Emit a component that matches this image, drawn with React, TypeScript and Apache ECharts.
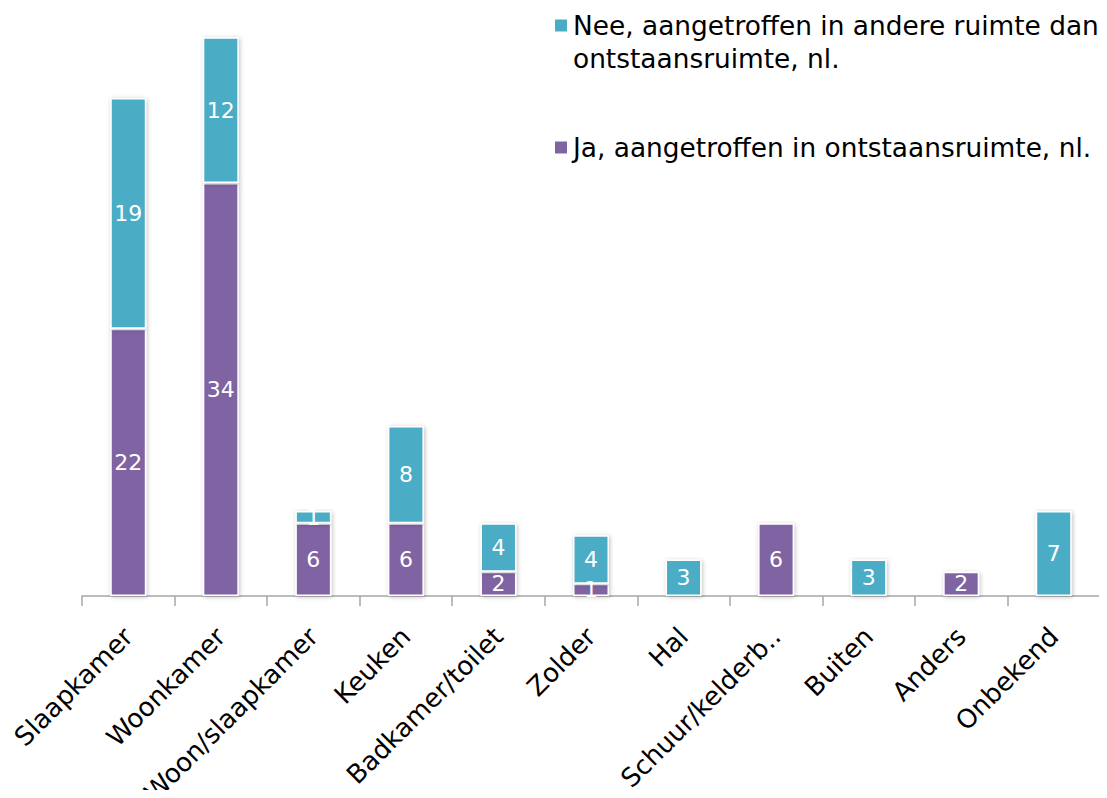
import React, { useEffect, useRef } from "react";
import * as echarts from "echarts";

const categories = [
  "Slaapkamer",
  "Woonkamer",
  "Woon/slaapkamer",
  "Keuken",
  "Badkamer/toilet",
  "Zolder",
  "Hal",
  "Schuur/kelderb..",
  "Buiten",
  "Anders",
  "Onbekend",
];
const jaValues = [22, 34, 6, 6, 2, 1, 0, 6, 0, 2, 0];
const neeValues = [19, 12, 1, 8, 4, 4, 3, 0, 3, 0, 7];
const jaName = "Ja, aangetroffen in ontstaansruimte, nl.";
const neeName = "Nee, aangetroffen in andere ruimte dan ontstaansruimte, nl.";
const neeLines = ["Nee, aangetroffen in andere ruimte dan", "ontstaansruimte, nl."];
const yMax = 48;

const FONT = "'DejaVu Sans', Verdana, sans-serif";

export default function App() {
  const ref = useRef<HTMLDivElement>(null);
  useEffect(() => {
    if (!ref.current) return;
    const chart = echarts.init(ref.current, undefined, { renderer: "svg" });
    const barStyle = (color: string) => ({
      color,
      borderColor: "#ffffff",
      borderWidth: 1.5,
      shadowBlur: 4,
      shadowColor: "rgba(0,0,0,0.25)",
      shadowOffsetX: 1,
      shadowOffsetY: 1,
    });
    const label = {
      show: true,
      position: "inside",
      color: "#ffffff",
      fontSize: 22,
      fontFamily: FONT,
      formatter: (p: any) => (p.value ? String(p.value) : ""),
    };
    const legendText = {
      fontSize: 26.4,
      color: "#000000",
      fontFamily: FONT,
      lineHeight: 33,
    };
    const legendBase = {
      orient: "vertical",
      left: 553,
      padding: 0,
      itemWidth: 14,
      itemHeight: 14,
      icon: "rect",
    };
    chart.setOption({
      animation: false,
      textStyle: { fontFamily: FONT },
      legend: [
        {
          ...legendBase,
          top: -24,
          data: [neeName],
          formatter: () => "{a| }\n{a|" + neeLines[0] + "}\n{a|" + neeLines[1] + "}",
          textStyle: { ...legendText, rich: { a: { ...legendText } } },
        },
        {
          ...legendBase,
          top: 131,
          data: [jaName],
          textStyle: { ...legendText },
        },
      ],
      grid: {
        left: 82,
        right: 7,
        top: 13,
        bottom: 202,
        containLabel: false,
        outerBoundsMode: "none",
      },
      xAxis: {
        type: "category",
        data: categories,
        axisLine: { lineStyle: { color: "#a6a6a6", width: 1.5 } },
        axisTick: { show: true, length: 10, lineStyle: { color: "#a6a6a6", width: 1.5 } },
        axisLabel: {
          rotate: 45,
          interval: 0,
          margin: 36,
          fontSize: 26,
          color: "#000000",
          fontFamily: FONT,
        },
      },
      yAxis: {
        type: "value",
        min: 0,
        max: yMax,
        show: false,
        splitLine: { show: false },
      },
      series: [
        {
          name: jaName,
          type: "bar",
          stack: "total",
          barWidth: 36,
          data: jaValues,
          itemStyle: barStyle("#8064A2"),
          label,
        },
        {
          name: neeName,
          type: "bar",
          stack: "total",
          barWidth: 36,
          data: neeValues,
          itemStyle: barStyle("#4BACC6"),
          label,
        },
      ],
    });
    return () => chart.dispose();
  }, []);
  return <div ref={ref} style={{ width: 1107, height: 798, margin: -8 }} />;
}
